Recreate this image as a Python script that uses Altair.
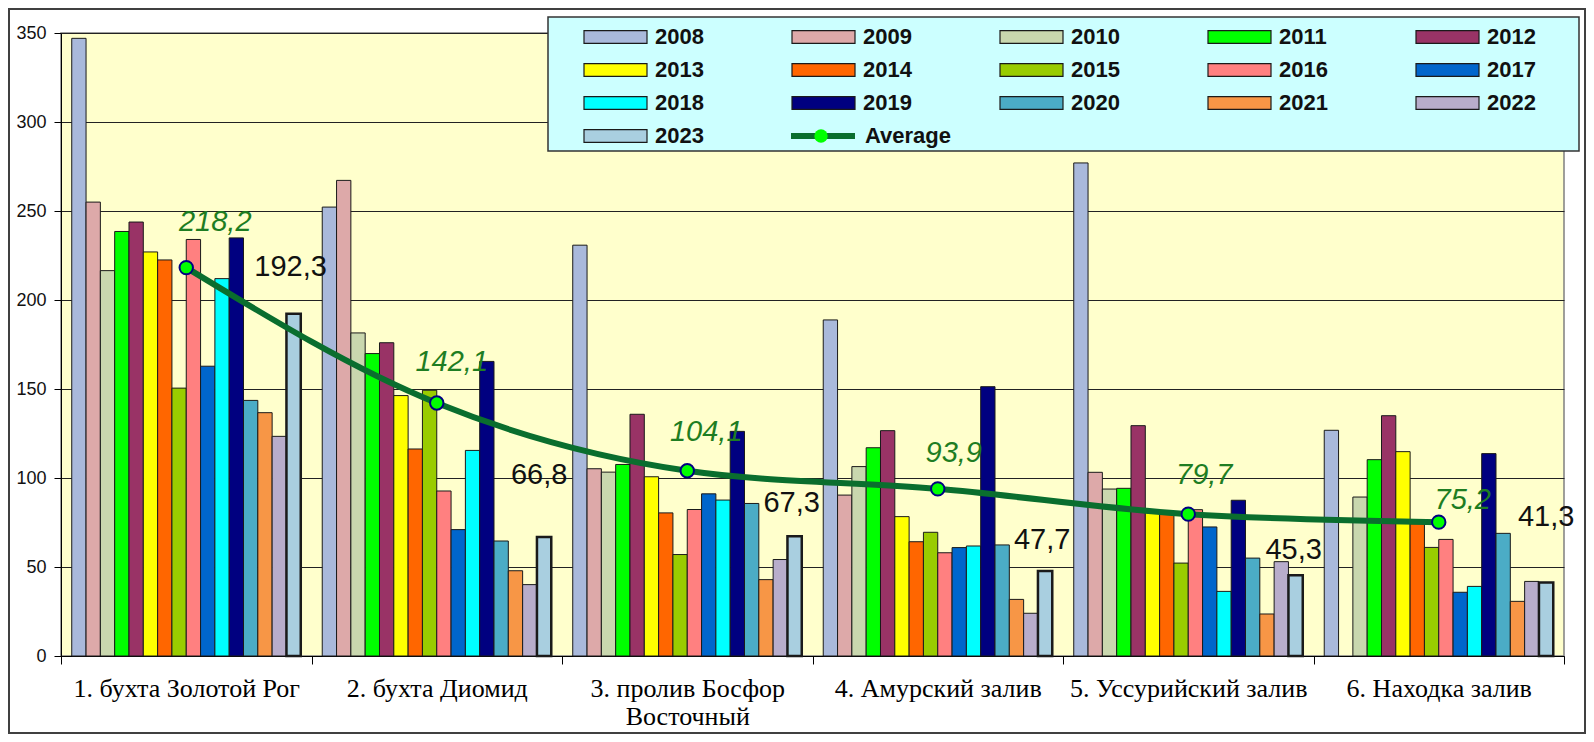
import altair as alt
import pandas as pd

years = [str(y) for y in range(2008, 2024)]
regions = [
    "1. бухта Золотой Рог",
    "2. бухта Диомид",
    "3. пролив Босфор Восточный",
    "4. Амурский залив",
    "5. Уссурийский залив",
    "6. Находка залив",
]

# values 2008..2023 for each area
zolotoy_rog = [347, 255, 216.5, 238.5, 243.8, 227, 222.5, 150.5, 234, 162.8, 212, 234.9, 143.6, 136.7, 123.4, 192.3]
diomid = [252.2, 267.2, 181.5, 169.9, 176, 146.3, 116.3, 149.3, 92.7, 71, 115.5, 165.5, 64.6, 47.9, 40.1, 66.8]
bosfor = [230.8, 105.2, 103.3, 107.6, 135.8, 100.7, 80.4, 57, 82.3, 91.1, 87.6, 126.2, 85.7, 42.9, 54.2, 67.3]
amursky = [188.8, 90.4, 106.4, 117, 126.6, 78.3, 64.2, 69.5, 58, 60.9, 61.8, 151.3, 62.4, 31.8, 24, 47.7]
ussuriysky = [277, 103.2, 93.8, 94.2, 129.4, 82, 80, 52.2, 82.2, 72.5, 36.3, 87.5, 55, 23.6, 53, 45.3]
nakhodka = [126.8, None, 89.3, 110.3, 135, 114.8, 74.3, 61, 65.5, 35.8, 39.1, 113.7, 68.9, 30.7, 41.9, 41.3]

averages = [218.2, 142.1, 104.1, 93.9, 79.7, 75.2]

year_colors = [
    "#A9B9DB", "#DDA9A9", "#C9D7AE", "#00FF00", "#993366", "#FFFF00", "#FF6600", "#99CC00",
    "#FF8080", "#0066CC", "#00FFFF", "#000080", "#4BACC6", "#F79646", "#B8ADCB", "#A9CFE0",
]

series_by_region = [zolotoy_rog, diomid, bosfor, amursky, ussuriysky, nakhodka]
rows = []
for reg, vals in zip(regions, series_by_region):
    for yr, v in zip(years, vals):
        if v is not None:
            rows.append({"region": reg, "year": yr, "value": v})
bars_df = pd.DataFrame(rows)
avg_df = pd.DataFrame({"region": regions, "avg": averages})
avg_df["series"] = "Average"
avg_df["marker"] = "marker"
one_df = pd.DataFrame({"k": [0]})

# layout constants (label offsets in pixels)
avg_dx = [29, 15, 19, 16, 16, 24]
avg_dy = [-46, -41, -39, -36, -39, -22]
last_dx = [-3, -5, -3, -3, -2, 0]
last_dy = [-47, -62, -33, -31, -25, -65]

LEG_FONT = "Liberation Sans"
x_scale = alt.Scale(domain=regions, paddingInner=0, paddingOuter=0)
xoff_scale = alt.Scale(domain=years, paddingInner=0, paddingOuter=0.75)
y_scale = alt.Scale(domain=[0, 350], nice=False)

x_axis = alt.Axis(
    title=None, labelAngle=0, tickBand="extent", tickSize=8, tickColor="black",
    domainColor="black", labelFont="Liberation Serif", labelFontSize=26,
    labelColor="black", labelPadding=11, labelLineHeight=28, labelLimit=400,
    labelExpr="datum.value == '3. пролив Босфор Восточный' ? ['3. пролив Босфор', 'Восточный'] : datum.label",
)
y_axis = alt.Axis(
    title=None, values=[0, 50, 100, 150, 200, 250, 300, 350], tickSize=7,
    tickColor="black", domainColor="black", labelFont="Liberation Sans",
    labelFontSize=18, labelColor="#111", labelPadding=8, gridColor="#222",
    gridWidth=1, gridOpacity=1,
)

bars = alt.Chart(bars_df).mark_bar(stroke="#1a1a1a").encode(
    x=alt.X("region:N", scale=x_scale, sort=regions, axis=x_axis),
    xOffset=alt.XOffset("year:N", scale=xoff_scale, sort=years),
    y=alt.Y("value:Q", scale=y_scale, axis=y_axis),
    fill=alt.Fill(
        "year:N", sort=years,
        scale=alt.Scale(domain=years, range=year_colors),
        legend=alt.Legend(
            orient="none", legendX=522, legendY=-12.5, columns=5, direction="horizontal",
            title=None, symbolType="M-1,-0.2H1V0.2H-1Z", symbolSize=3969,
            symbolStrokeColor="#1a1a1a", symbolStrokeWidth=1.2, symbolOpacity=1,
            clipHeight=33, rowPadding=0, columnPadding=87, padding=0,
            labelFont=LEG_FONT, labelFontSize=22, labelFontWeight="bold",
            labelOffset=7, labelColor="#111",
        ),
    ),
    strokeWidth=alt.condition("datum.year == '2023'", alt.value(2.5), alt.value(1)),
)

line = alt.Chart(avg_df).mark_line(strokeWidth=6, interpolate="monotone").encode(
    x=alt.X("region:N", sort=regions),
    y=alt.Y("avg:Q"),
    stroke=alt.Stroke(
        "series:N", scale=alt.Scale(domain=["Average"], range=["#0A6E2E"]),
        legend=alt.Legend(
            orient="none", legendX=727, legendY=86.5, title=None,
            symbolType="stroke", symbolSize=4096, symbolStrokeWidth=6,
            clipHeight=33, padding=0, labelFont=LEG_FONT, labelFontSize=22,
            labelFontWeight="bold", labelOffset=7, labelColor="#111", zindex=1,
        ),
    ),
)

points = alt.Chart(avg_df).mark_point(
    filled=True, size=180, fill="#00FF00", stroke="#000080", strokeWidth=2, opacity=1
).encode(
    x=alt.X("region:N", sort=regions),
    y=alt.Y("avg:Q"),
    shape=alt.Shape(
        "marker:N", scale=alt.Scale(domain=["marker"], range=["circle"]),
        legend=alt.Legend(
            orient="none", legendX=752, legendY=86.5, title=None,
            symbolType="circle", symbolSize=180, symbolFillColor="#00FF00",
            symbolStrokeColor="#000080", symbolStrokeWidth=2, clipHeight=33,
            padding=0, labelExpr="''", zindex=2,
        ),
    ),
)

avg_texts = []
last_texts = []
for i, reg in enumerate(regions):
    avg_texts.append(
        alt.Chart(avg_df)
        .transform_filter(alt.datum.region == reg)
        .transform_calculate(lbl="replace(format(datum.avg, '.1f'), '.', ',')")
        .mark_text(dx=avg_dx[i], dy=avg_dy[i], font="Liberation Sans", fontSize=29,
                   fontStyle="italic", color="#1E7D22", align="center", baseline="middle")
        .encode(x=alt.X("region:N", sort=regions), y=alt.Y("avg:Q"), text="lbl:N")
    )
    last_texts.append(
        alt.Chart(bars_df)
        .transform_filter((alt.datum.region == reg) & (alt.datum.year == "2023"))
        .transform_calculate(lbl="replace(format(datum.value, '.1f'), '.', ',')")
        .mark_text(dx=last_dx[i], dy=last_dy[i], font="Liberation Sans", fontSize=29,
                   color="#111", align="center", baseline="middle")
        .encode(x=alt.X("region:N", sort=regions), xOffset=alt.XOffset("year:N", sort=years),
                y=alt.Y("value:Q"), text="lbl:N")
    )

legend_box = alt.Chart(one_df).mark_rect(
    fill="#CCFFFF", stroke="#333333", strokeWidth=1.5
).encode(x=alt.value(487), x2=alt.value(1518), y=alt.value(-16), y2=alt.value(118))

frame = alt.Chart(one_df).mark_rect(
    fillOpacity=0, stroke="#404040", strokeWidth=2
).encode(x=alt.value(-52), x2=alt.value(1524), y=alt.value(-24), y2=alt.value(700))

chart = (
    alt.layer(bars, line, points, *avg_texts, *last_texts, legend_box, frame)
    .properties(
        width=1503, height=623,
        padding={"left": 53, "top": 25, "right": 22, "bottom": 78},
        autosize=alt.AutoSizeParams(type="none"),
        background="white",
    )
    .configure_view(fill="#FFFFCC", stroke="#808080", strokeWidth=1.5)
)

chart.save("out.html", embed_options={"renderer": "svg", "actions": False})
